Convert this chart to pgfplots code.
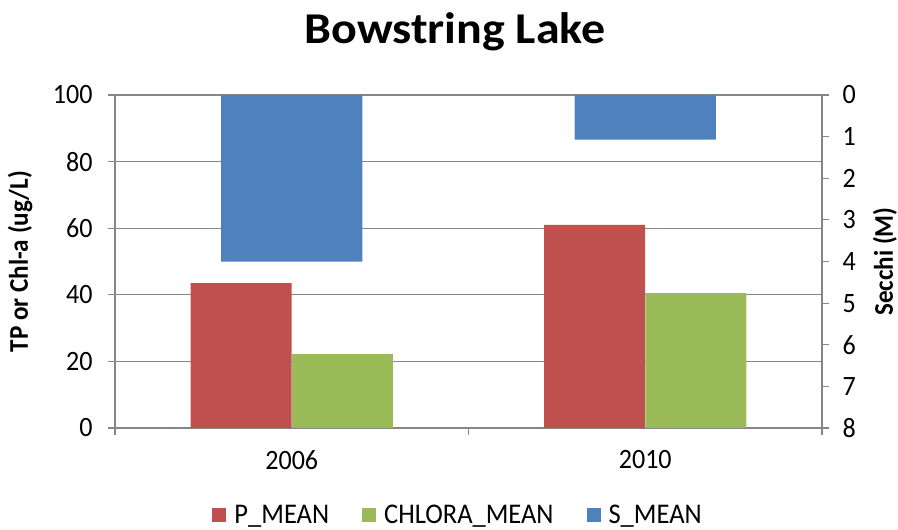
\documentclass[border=0pt]{standalone}
\usepackage{fontspec}
\setmainfont{Carlito}[FakeStretch=0.93]
\newfontfamily\titlefont{Carlito}[FakeStretch=1.09]
\usepackage{pgfplots}
\pgfplotsset{compat=1.18}
\definecolor{pcol}{HTML}{C0504D}
\definecolor{ccol}{HTML}{9BBB59}
\definecolor{scol}{HTML}{4F81BD}
\definecolor{axgray}{HTML}{868686}
\pgfplotsset{
  common/.style={
    at={(115bp,102bp)}, anchor=south west,
    scale only axis, width=707bp, height=333bp,
    xmin=-0.5, xmax=1.5,
    /pgf/number format/assume math mode=true,
    tick label style={font=\fontsize{28bp}{30bp}\selectfont},
    tick align=outside, major tick length=7bp,
    tick style={axgray, line width=1.1bp},
    axis line style={axgray, line width=1.1bp, -},
  }
}
\begin{document}
\begin{tikzpicture}
\useasboundingbox (0,0) rectangle (898bp,530bp);
\begin{axis}[common,
  ymin=0, ymax=100,
  axis x line*=bottom, axis y line*=left,
  xtick={-0.5,0.5,1.5}, xticklabels={},
  extra x ticks={0,1}, extra x tick labels={2006,2010},
  extra x tick style={major tick length=0pt, xticklabel style={yshift=-19bp}},
  ytick={0,20,40,60,80,100},
  ymajorgrids, grid style={axgray, line width=1.1bp},
  yticklabel style={xshift=-12bp},
  ylabel={TP or Chl-a (ug/L)},
  every axis y label/.style={at={(axis description cs:-0.134,0.5)}, rotate=90, anchor=center,
    font=\bfseries\fontsize{27bp}{30bp}\selectfont},
]
\addplot[ybar, bar width=0.2857, bar shift=-0.1429, fill=pcol, draw=none] coordinates {(0,43.5) (1,61)};
\addplot[ybar, bar width=0.2857, bar shift=0.1429, fill=ccol, draw=none] coordinates {(0,22.2) (1,40.5)};
\end{axis}
\begin{axis}[common,
  ymin=0, ymax=8, y dir=reverse,
  axis x line=none, axis y line*=right,
  ytick={0,1,2,3,4,5,6,7,8},
  yticklabel style={xshift=10bp},
  ylabel={Secchi (M)},
  every axis y label/.style={at={(axis description cs:1.089,0.5)}, rotate=90, anchor=center,
    font=\bfseries\fontsize{27bp}{30bp}\selectfont},
  legend image code/.code={\fill[#1] (0bp,-7bp) rectangle (14bp,7bp);},
  legend style={draw=none, fill=none, legend columns=3, at={(0.486,-0.262)}, anchor=center,
    font=\fontsize{28.5bp}{30bp}\selectfont,
    /tikz/every even column/.append style={column sep=30bp},
    /tikz/every odd column/.append style={column sep=5bp},
    nodes={inner sep=3bp}},
]
\addlegendimage{fill=pcol, draw=none}
\addlegendimage{fill=ccol, draw=none}
\addplot[ybar, bar width=0.4, fill=scol, draw=none] coordinates {(0,4.0) (1,1.07)};
\legend{P\_MEAN, CHLORA\_MEAN, S\_MEAN}
\end{axis}
\node[font=\titlefont\bfseries\fontsize{44bp}{48bp}\selectfont] at (455bp,498bp) {Bowstring Lake};
\end{tikzpicture}
\end{document}
